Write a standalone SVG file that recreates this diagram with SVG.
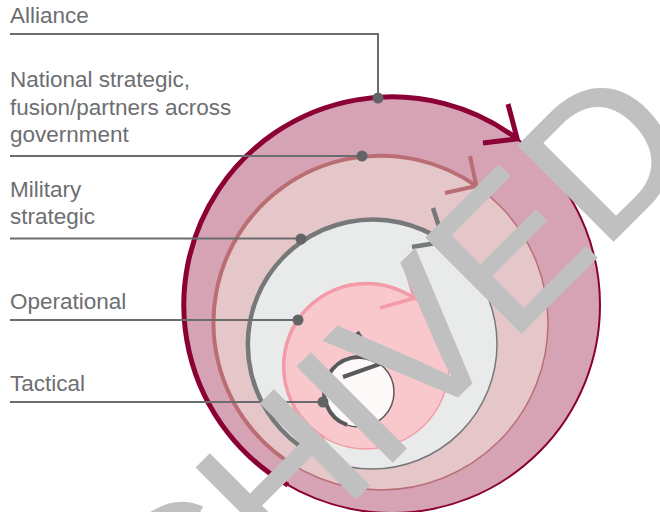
<svg xmlns="http://www.w3.org/2000/svg" width="660" height="512" viewBox="0 0 660 512">
<defs>
<style>
.lbl{font-family:"Liberation Sans",Arial,sans-serif;font-size:22.5px;fill:#6d6e71}
.ln{fill:none;stroke:#6b6c6e;stroke-width:2}
.dot{fill:#636466}
.arc{fill:none}
.wm{font-family:"Liberation Sans",Arial,sans-serif;font-size:195px;fill:#c0c0c0;stroke:#c0c0c0;stroke-width:2}
</style>
</defs>
<rect width="660" height="512" fill="#ffffff"/>

<g id="alliance">
<circle cx="392" cy="305" r="208" fill="#d6a3b5" stroke="#8b0035" stroke-width="2"/>
<path class="arc" d="M288,485.1 A208,208 0 1 1 517.2,138.9" stroke="#8b0035" stroke-width="5"/>
<polyline class="arc" points="508,104 517.2,138.9 483,143" stroke="#8b0035" stroke-width="5"/>
<text class="lbl" x="10" y="23">Alliance</text>
</g>

<g id="national">
<circle cx="381" cy="323" r="167" fill="#e6c7c9" stroke="#ba6e74" stroke-width="1.5"/>
<path class="arc" d="M297.5,467.6 A167,167 0 1 1 476.3,185.9" stroke="#ba6e74" stroke-width="4"/>
<polyline class="arc" points="470,156 476.3,185.9 445,193" stroke="#ba6e74" stroke-width="4"/>
<text class="lbl" x="10" y="87">National strategic,</text>
<text class="lbl" x="10" y="115">fusion/partners across</text>
<text class="lbl" x="10" y="142">government</text>
</g>

<g id="military">
<circle cx="372" cy="344" r="125" fill="#e9ebea" stroke="#76787a" stroke-width="1.5"/>
<path class="arc" d="M309.5,452.3 A125,125 0 1 1 443.9,241.7" stroke="#76787a" stroke-width="4.5"/>
<polyline class="arc" points="433,208 443.9,241.7 412,247" stroke="#76787a" stroke-width="4.5"/>
<text class="lbl" x="10" y="197">Military</text>
<text class="lbl" x="10" y="224">strategic</text>
</g>

<g id="operational">
<circle cx="366" cy="366" r="83" fill="#f9c8cc" stroke="#f49ba8" stroke-width="1.5"/>
<path class="arc" d="M324.5,437.9 A83,83 0 1 1 414.1,298.3" stroke="#f49ba8" stroke-width="3.5"/>
<polyline class="arc" points="405,265 414.1,298.3 380,308" stroke="#f49ba8" stroke-width="3.5"/>
<text class="lbl" x="10" y="309">Operational</text>
</g>

<g id="tactical">
<circle cx="359" cy="392" r="35" fill="#fdf9f8" stroke="#58595b" stroke-width="1.5"/>
<path class="arc" d="M347,424.9 A35,35 0 1 1 379.9,363.9" stroke="#58595b" stroke-width="4"/>
<polyline class="arc" points="357,332 379.9,363.9 343,377" stroke="#58595b" stroke-width="4"/>
<text class="lbl" x="10" y="391">Tactical</text>
</g>

<g id="connectors">
<polyline class="ln" points="10,34 378,34 378,98"/>
<line class="ln" x1="10" y1="156" x2="362" y2="156"/>
<line class="ln" x1="10" y1="238.5" x2="301" y2="238.5"/>
<line class="ln" x1="10" y1="320" x2="298" y2="320"/>
<line class="ln" x1="10" y1="402" x2="323" y2="402"/>
<circle class="dot" cx="378" cy="98" r="5.5"/>
<circle class="dot" cx="362" cy="156" r="5.5"/>
<circle class="dot" cx="301" cy="239" r="5.5"/>
<circle class="dot" cx="298" cy="320" r="5.5"/>
<circle class="dot" cx="323" cy="402" r="5.5"/>
</g>

<text class="wm" transform="rotate(-45)" x="-619" y="604">ARCHIVED</text>
</svg>
